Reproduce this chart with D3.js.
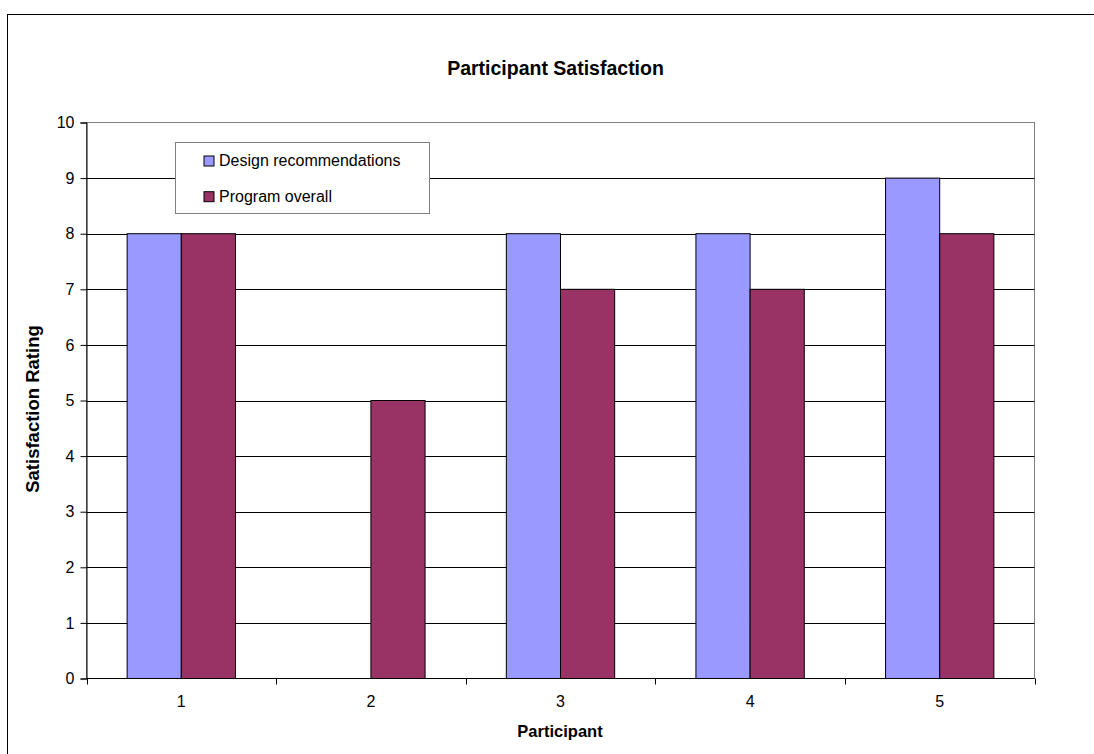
<!DOCTYPE html>
<html>
<head>
<meta charset="utf-8">
<script src="https://cdn.jsdelivr.net/npm/d3@7"></script>
<style>
  html, body { margin: 0; padding: 0; background: #fff; }
  svg { display: block; font-family: "Liberation Sans", Arial, sans-serif; }
</style>
</head>
<body>
<svg id="chart" width="1094" height="754"></svg>
<script>
// Participant ratings, one entry per participant
const participants = ["1", "2", "3", "4", "5"];
const designRecommendations = [8, 0, 8, 8, 9];
const programOverall = [8, 5, 7, 7, 8];
const seriesNames = ["Design recommendations", "Program overall"];
const seriesColors = ["#9999FF", "#993366"];
const yTicks = [0, 1, 2, 3, 4, 5, 6, 7, 8, 9, 10];

const svg = d3.select("#chart");
const plot = { left: 86.5, top: 122.5, right: 1034.5, bottom: 678.5 };
const FONT = "Liberation Sans, Arial, sans-serif";

// Outer chart frame
svg.append("rect")
  .attr("x", 7.5).attr("y", 14.5)
  .attr("width", 1100).attr("height", 760)
  .attr("fill", "#fff").attr("stroke", "#000").attr("stroke-width", 1);

const x = d3.scaleBand()
  .domain(participants)
  .range([plot.left, plot.right])
  .paddingInner(0).paddingOuter(0);

const y = d3.scaleLinear()
  .domain([0, 10])
  .range([plot.bottom, plot.top]);

// Bar positions inside each band: 150% gap width
const barW = x.bandwidth() / 3.5;
const sub = d3.scaleBand().domain([0, 1])
  .range([x.bandwidth() / 2 - barW, x.bandwidth() / 2 + barW]);

// Plot area border
svg.append("rect")
  .attr("x", plot.left).attr("y", plot.top)
  .attr("width", plot.right - plot.left).attr("height", plot.bottom - plot.top)
  .attr("fill", "#fff").attr("stroke", "#808080").attr("stroke-width", 1);

// Horizontal gridlines
svg.append("g")
  .selectAll("line")
  .data(yTicks.filter(d => d > 0 && d < 10))
  .join("line")
  .attr("x1", plot.left).attr("x2", plot.right)
  .attr("y1", d => Math.round(y(d)) + 0.5).attr("y2", d => Math.round(y(d)) + 0.5)
  .attr("stroke", "#000").attr("stroke-width", 1);

// Bars
const series = [designRecommendations, programOverall];
series.forEach((vals, si) => {
  svg.append("g")
    .selectAll("rect")
    .data(vals.map((v, i) => ({ p: participants[i], v })))
    .join("rect")
    .filter(d => d.v > 0)
    .attr("x", d => x(d.p) + sub(si))
    .attr("y", d => y(d.v))
    .attr("width", sub.bandwidth())
    .attr("height", d => y(0) - y(d.v))
    .attr("fill", seriesColors[si])
    .attr("stroke", "#000").attr("stroke-width", 1);
});

// Y axis
const yAxis = d3.axisLeft(y).tickValues(yTicks).tickSize(6).tickPadding(6).tickFormat(d3.format("d"));
const yg = svg.append("g")
  .attr("transform", `translate(${plot.left},0)`)
  .call(yAxis);
yg.select(".domain").attr("stroke", "#000");
yg.selectAll(".tick line").attr("stroke", "#000");
yg.selectAll(".tick text").attr("font-size", 16).attr("fill", "#000")
  .attr("font-family", FONT);

// X axis: ticks sit on category boundaries
const xg = svg.append("g")
  .attr("transform", `translate(0,${plot.bottom})`)
  .call(d3.axisBottom(x).tickSize(0).tickPadding(17));
xg.select(".domain").attr("stroke", "#000").attr("d", `M${plot.left},0H${plot.right}`);
xg.selectAll(".tick text").attr("font-size", 16).attr("fill", "#000")
  .attr("font-family", FONT);
xg.selectAll("line.boundary")
  .data(participants.map(p => x(p)).concat([plot.right]))
  .join("line")
  .attr("class", "boundary")
  .attr("x1", d => Math.round(d) + 0.5).attr("x2", d => Math.round(d) + 0.5)
  .attr("y1", 0).attr("y2", 6)
  .attr("stroke", "#000");

// Titles
svg.append("text")
  .attr("x", 555.5).attr("y", 75)
  .attr("text-anchor", "middle")
  .attr("font-size", 19.5).attr("font-weight", "bold")
  .text("Participant Satisfaction");

svg.append("text")
  .attr("x", 560).attr("y", 737)
  .attr("text-anchor", "middle")
  .attr("font-size", 16.5).attr("font-weight", "bold")
  .text("Participant");

svg.append("text")
  .attr("transform", "translate(39,409) rotate(-90)")
  .attr("text-anchor", "middle")
  .attr("font-size", 18.5).attr("font-weight", "bold")
  .text("Satisfaction Rating");

// Legend
const legend = svg.append("g").attr("transform", "translate(175.5,142.5)");
legend.append("rect")
  .attr("width", 254).attr("height", 71)
  .attr("fill", "#fff").attr("stroke", "#808080").attr("stroke-width", 1);
const items = legend.selectAll("g.item")
  .data(seriesNames)
  .join("g")
  .attr("class", "item")
  .attr("transform", (d, i) => `translate(28.5,${23.5 + i * 35.7})`);
items.append("rect")
  .attr("x", 0).attr("y", -10)
  .attr("width", 10).attr("height", 10)
  .attr("fill", (d, i) => seriesColors[i])
  .attr("stroke", "#000").attr("stroke-width", 1);
items.append("text")
  .attr("x", 15).attr("y", 0)
  .attr("font-size", 16)
  .text(d => d);
</script>
</body>
</html>
